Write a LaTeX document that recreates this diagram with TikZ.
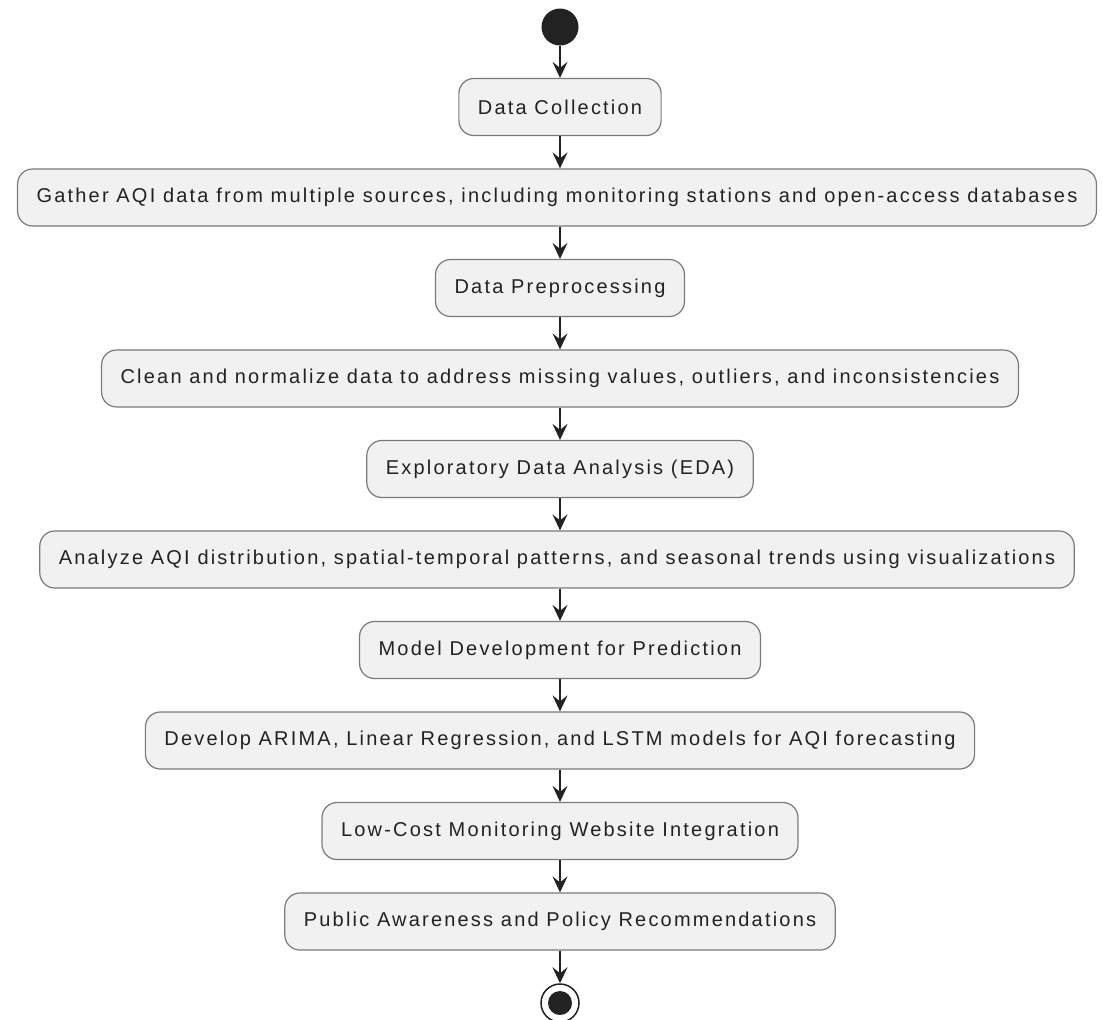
\documentclass[tikz,border=0pt]{standalone}
\usepackage{fontspec}
\setmainfont{Liberation Sans}[LetterSpace=11]
\usetikzlibrary{arrows.meta}
\definecolor{boxfill}{HTML}{F1F1F1}
\definecolor{boxline}{HTML}{7A7A7A}
\definecolor{ink}{HTML}{222222}
\tikzset{
  activity/.style={draw=boxline, fill=boxfill, line width=1.2pt, rounded corners=15pt,
    minimum height=57pt, inner xsep=19pt, text=ink, font=\fontsize{20}{23}\selectfont},
  flow/.style={draw=ink, line width=1.5pt, -{Stealth[length=16pt,width=15pt,inset=6pt]}},
}
\begin{document}
\begin{tikzpicture}[x=1pt, y=-1pt]
  \useasboundingbox (0, 0) rectangle (1103, 1020);
  \node[circle, fill=ink, minimum size=37pt, inner sep=0pt] (start) at (560, 27) {};
  \node[activity] (collect) at (560, 107) {Data Collection};
  \node[activity] (gather) at (557, 197.5) {Gather AQI data from multiple sources, including monitoring stations and open-access databases};
  \node[activity] (prep) at (560, 288) {Data Preprocessing};
  \node[activity] (clean) at (560, 378.5) {Clean and normalize data to address missing values, outliers, and inconsistencies};
  \node[activity] (eda) at (560, 469) {Exploratory Data Analysis (EDA)};
  \node[activity] (analyze) at (557, 559.5) {Analyze AQI distribution, spatial-temporal patterns, and seasonal trends using visualizations};
  \node[activity] (model) at (560, 650) {Model Development for Prediction};
  \node[activity] (develop) at (560, 740.5) {Develop ARIMA, Linear Regression, and LSTM models for AQI forecasting};
  \node[activity] (website) at (560, 831) {Low-Cost Monitoring Website Integration};
  \node[activity] (policy) at (560, 921.5) {Public Awareness and Policy Recommendations};
  \node[circle, draw=ink, line width=1.5pt, fill=white, minimum size=38pt, inner sep=0pt] (stop) at (560, 1003) {};
  \fill[ink] (stop.center) circle (12pt);

  \draw[flow] (start) -- (collect);
  \draw[flow] (collect.south) -- (collect.south |- gather.north);
  \draw[flow] (prep.north |- gather.south) -- (prep.north);
  \draw[flow] (prep) -- (clean);
  \draw[flow] (clean) -- (eda);
  \draw[flow] (eda.south) -- (eda.south |- analyze.north);
  \draw[flow] (model.north |- analyze.south) -- (model.north);
  \draw[flow] (model) -- (develop);
  \draw[flow] (develop) -- (website);
  \draw[flow] (website) -- (policy);
  \draw[flow] (policy) -- (stop);
\end{tikzpicture}
\end{document}
